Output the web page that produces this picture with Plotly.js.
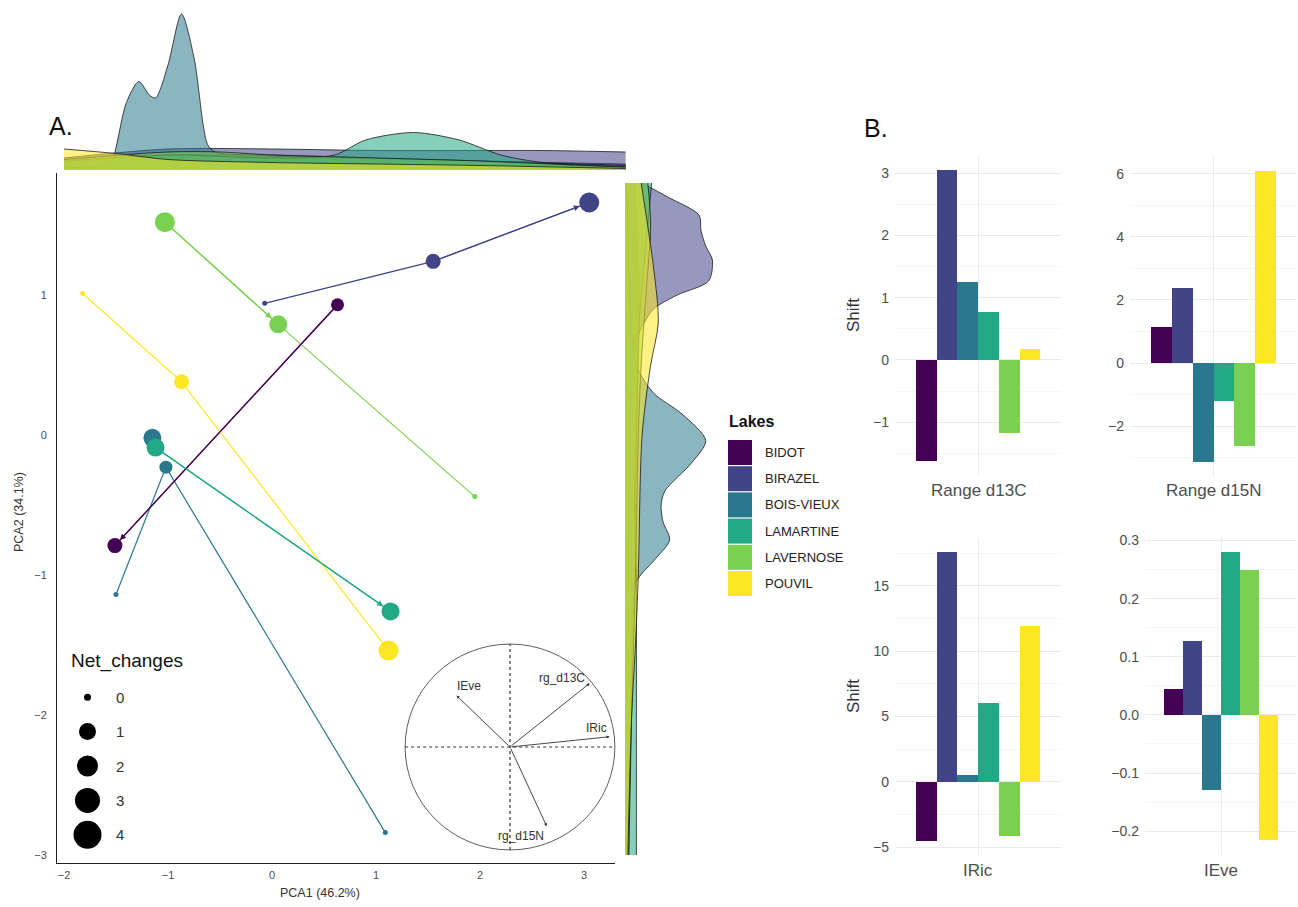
<!DOCTYPE html>
<html>
<head>
<meta charset="utf-8">
<script src="https://cdn.plot.ly/plotly-3.0.1.min.js"></script>
<style>html,body{margin:0;padding:0;background:#fff;}#chart{width:1298px;height:907px;}</style>
</head>
<body>
<div id="chart"></div>
<script>
// ---------------- DATA ----------------
const lakes = ['BIDOT','BIRAZEL','BOIS-VIEUX','LAMARTINE','LAVERNOSE','POUVIL'];
const lakeColors = ['#440154','#414487','#2A788E','#22A884','#7AD151','#FDE725'];

// PCA scores of each lake (trajectory points) and their net changes
const bidotPC1 = [0.63, -1.51];          const bidotPC2 = [0.93, -0.79];          const bidotNet = [1, 2];
const birazelPC1 = [-0.07, 1.55, 3.05];  const birazelPC2 = [0.94, 1.24, 1.66];  const birazelNet = [0, 2, 4];
const boisPC1 = [-1.50, -1.02, 1.09, -1.15]; const boisPC2 = [-1.14, -0.23, -2.84, -0.02]; const boisNet = [0, 1, 0, 3];
const lamartinePC1 = [-1.12, 1.14];      const lamartinePC2 = [-0.09, -1.26];     const lamartineNet = [3, 3];
const lavernosePC1 = [-1.03, 0.06, 1.95]; const lavernosePC2 = [1.52, 0.79, -0.44]; const lavernoseNet = [4, 3, 0];
const pouvilPC1 = [-1.82, -0.87, 1.12];  const pouvilPC2 = [1.01, 0.38, -1.54];  const pouvilNet = [0, 2, 4];
// trajectory segments [from, to, arrowhead?]
const bidotSeg = [[0,1,1]];
const birazelSeg = [[0,1,0],[1,2,1]];
const boisSeg = [[0,1,0],[1,2,0]];
const lamartineSeg = [[0,1,1]];
const lavernoseSeg = [[0,1,1],[1,2,0]];
const pouvilSeg = [[0,1,0],[1,2,0]];

// Marginal densities: PCA1 (top)
const topX_BIDOT = [-2.0,-1.0,0,1.0,2.0,3.4];               const topD_BIDOT = [0.05,0.10,0.10,0.08,0.06,0.04];
const topX_BIRAZEL = [-2.0,-1.0,0,1.0,2.0,2.6,3.4];         const topD_BIRAZEL = [0.08,0.14,0.14,0.13,0.13,0.13,0.12];
const topX_BOIS = [-2.0,-1.55,-1.5,-1.4,-1.28,-1.18,-1.12,-1.0,-0.87,-0.75,-0.62,-0.55,-0.2,0.5,1.5,2.5,3.4];
const topD_BOIS = [0.02,0.04,0.15,0.45,0.59,0.50,0.48,0.70,1.04,0.75,0.17,0.12,0.10,0.08,0.07,0.05,0.03];
const topX_LAMARTINE = [-2.0,-1.0,0,0.6,0.9,1.36,1.8,2.2,2.6,3.4]; const topD_LAMARTINE = [0.06,0.10,0.08,0.10,0.20,0.25,0.20,0.10,0.05,0.02];
const topX_LAVERNOSE = [-2.0,-1.0,-0.5,0,1.0,2.0,3.0,3.4];  const topD_LAVERNOSE = [0.07,0.12,0.12,0.10,0.08,0.06,0.03,0.02];
const topX_POUVIL = [-2.0,-1.5,-1.0,0,1.0,2.0,3.4];         const topD_POUVIL = [0.14,0.11,0.07,0.05,0.04,0.03,0.01];

// Marginal densities: PCA2 (right)
const rightY_BIDOT = [1.8,1.0,0,-1,-2,-3];                  const rightD_BIDOT = [0.10,0.15,0.12,0.10,0.05,0.02];
const rightY_BIRAZEL = [1.8,1.7,1.57,1.46,1.35,1.25,1.1,1.0,0.9,0.8,0.68,0.4,0,-1,-2,-3];
const rightD_BIRAZEL = [0.18,0.45,0.78,0.80,0.85,0.92,0.88,0.55,0.30,0.20,0.12,0.08,0.05,0.03,0.02,0.01];
const rightY_BOIS = [1.8,1.0,0.5,0.3,0.15,-0.04,-0.2,-0.4,-0.5,-0.62,-0.75,-0.9,-1.05,-1.5,-3];
const rightD_BOIS = [0.02,0.05,0.12,0.30,0.60,0.85,0.70,0.42,0.38,0.40,0.47,0.30,0.12,0.08,0.04];
const rightY_LAMARTINE = [1.8,1.2,0.8,0,-0.5,-1,-1.3,-2,-3]; const rightD_LAMARTINE = [0.28,0.20,0.15,0.12,0.10,0.12,0.12,0.12,0.12];
const rightY_LAVERNOSE = [1.8,1.5,1,0.5,0,-1,-2,-3];         const rightD_LAVERNOSE = [0.24,0.27,0.22,0.17,0.14,0.11,0.07,0.04];
const rightY_POUVIL = [1.8,1.2,0.8,0.5,0,-1,-1.5,-2,-3];     const rightD_POUVIL = [0.17,0.30,0.35,0.27,0.18,0.14,0.11,0.07,0.03];

// Correlation circle loadings
const loadVars = ['IEve','rg_d13C','IRic','rg_d15N'];
const loadPC1 = [-0.51, 0.76, 0.95, 0.35];
const loadPC2 = [0.50, 0.62, 0.10, -0.77];

// Panel B shifts
const facetNames = ['Range d13C','Range d15N','IRic','IEve'];
const shiftRangeD13C = [-1.62, 3.05, 1.25, 0.77, -1.18, 0.17];
const shiftRangeD15N = [1.15, 2.38, -3.15, -1.20, -2.62, 6.10];
const shiftIRic = [-4.5, 17.55, 0.5, 6.03, -4.12, 11.9];
const shiftIEve = [0.044, 0.127, -0.129, 0.281, 0.249, -0.216];

const netLevels = [0,1,2,3,4];

// ---------------- HELPERS ----------------
const W = 1298, H = 907;
const dx = (a,b) => [a/W, b/W];
const dy = (a,b) => [1-b/H, 1-a/H];
const plotSize = n => [5,13,15,18,20][n];
const legendSize = n => [7,17,21,25,28][n];
function rgba(hex,a){const r=parseInt(hex.slice(1,3),16),g=parseInt(hex.slice(3,5),16),b=parseInt(hex.slice(5,7),16);return `rgba(${r},${g},${b},${a})`;}
const FONT = 'Liberation Sans, Arial, sans-serif';

const traces = [];
const annotations = [];
const shapes = [];

// ---------------- MAIN PCA ----------------
const pcaData = [
  [bidotPC1,bidotPC2,bidotNet,bidotSeg],
  [birazelPC1,birazelPC2,birazelNet,birazelSeg],
  [boisPC1,boisPC2,boisNet,boisSeg],
  [lamartinePC1,lamartinePC2,lamartineNet,lamartineSeg],
  [lavernosePC1,lavernosePC2,lavernoseNet,lavernoseSeg],
  [pouvilPC1,pouvilPC2,pouvilNet,pouvilSeg]
];
pcaData.forEach((d,i)=>{
  const [px,py,net,seg]=d;
  const lx=[],ly=[];
  seg.forEach(s=>{lx.push(px[s[0]],px[s[1]],null);ly.push(py[s[0]],py[s[1]],null);});
  traces.push({type:'scatter',mode:'lines',x:lx,y:ly,xaxis:'x',yaxis:'y',line:{color:lakeColors[i],width:1.2},hoverinfo:'skip'});
});
pcaData.forEach((d,i)=>{
  const [px,py,net,seg]=d;
  traces.push({type:'scatter',mode:'markers',x:px,y:py,xaxis:'x',yaxis:'y',name:lakes[i],
    marker:{color:lakeColors[i],opacity:1,size:net.map(plotSize),line:{width:0}}});
  seg.forEach(s=>{
    if(!s[2]) return;
    annotations.push({xref:'x',yref:'y',axref:'x',ayref:'y',x:px[s[1]],y:py[s[1]],ax:px[s[0]],ay:py[s[0]],
      text:'',showarrow:true,arrowhead:2,arrowsize:1,arrowwidth:1.2,arrowcolor:lakeColors[i],standoff:plotSize(net[s[1]])/2});
  });
});

// ---------------- MARGINAL DENSITIES ----------------
const topX=[topX_BIDOT,topX_BIRAZEL,topX_BOIS,topX_LAMARTINE,topX_LAVERNOSE,topX_POUVIL];
const topD=[topD_BIDOT,topD_BIRAZEL,topD_BOIS,topD_LAMARTINE,topD_LAVERNOSE,topD_POUVIL];
const rightY=[rightY_BIDOT,rightY_BIRAZEL,rightY_BOIS,rightY_LAMARTINE,rightY_LAVERNOSE,rightY_POUVIL];
const rightD=[rightD_BIDOT,rightD_BIRAZEL,rightD_BOIS,rightD_LAMARTINE,rightD_LAVERNOSE,rightD_POUVIL];
lakes.forEach((l,i)=>{
  traces.push({type:'scatter',mode:'lines',x:topX[i],y:topD[i],xaxis:'x2',yaxis:'y2',fill:'tozeroy',
    fillcolor:rgba(lakeColors[i],0.55),line:{color:'#1a1a1a',width:0.8,shape:'spline',smoothing:0.8},hoverinfo:'skip'});
});
lakes.forEach((l,i)=>{
  traces.push({type:'scatter',mode:'lines',x:rightD[i],y:rightY[i],xaxis:'x3',yaxis:'y3',fill:'tozerox',
    fillcolor:rgba(lakeColors[i],0.55),line:{color:'#1a1a1a',width:0.8,shape:'spline',smoothing:0.8},hoverinfo:'skip'});
});

// ---------------- CORRELATION CIRCLE ----------------
shapes.push({type:'circle',xref:'x4',yref:'y4',x0:-1,y0:-1,x1:1,y1:1,line:{color:'#333',width:0.8}});
shapes.push({type:'line',xref:'x4',yref:'y4',x0:-1,y0:0,x1:1,y1:0,line:{color:'#333',width:1.2,dash:'dot'}});
shapes.push({type:'line',xref:'x4',yref:'y4',x0:0,y0:-1,x1:0,y1:1,line:{color:'#333',width:1.2,dash:'dot'}});
traces.push({type:'scatter',mode:'markers',x:[0],y:[0],xaxis:'x4',yaxis:'y4',marker:{size:1,color:'rgba(0,0,0,0)'},hoverinfo:'skip'});
const loadLabelStyle = [
  {xanchor:'left',yanchor:'bottom',xshift:-2,yshift:1},
  {xanchor:'right',yanchor:'middle',xshift:-3,yshift:5},
  {xanchor:'right',yanchor:'bottom',xshift:-1,yshift:0},
  {xanchor:'right',yanchor:'top',xshift:-1,yshift:-1}
];
loadVars.forEach((v,i)=>{
  annotations.push({xref:'x4',yref:'y4',axref:'x4',ayref:'y4',x:loadPC1[i],y:loadPC2[i],ax:0,ay:0,text:'',
    showarrow:true,arrowhead:2,arrowsize:0.7,arrowwidth:0.9,arrowcolor:'#333'});
  annotations.push(Object.assign({xref:'x4',yref:'y4',x:loadPC1[i],y:loadPC2[i],text:v,showarrow:false,
    font:{family:FONT,size:12,color:'#333'}},loadLabelStyle[i]));
});

// ---------------- NET CHANGES LEGEND ----------------
traces.push({type:'scatter',mode:'markers',x:netLevels.map(()=>0),y:netLevels,xaxis:'x9',yaxis:'y9',
  marker:{color:'#000',opacity:1,size:netLevels.map(legendSize),line:{width:0}},hoverinfo:'skip'});
netLevels.forEach(n=>{
  annotations.push({xref:'paper',yref:'y9',x:114/W,y:n,text:String(n),showarrow:false,xanchor:'left',yanchor:'middle',
    font:{family:FONT,size:15,color:'#333'}});
});
annotations.push({xref:'paper',yref:'paper',x:69/W,y:1-661/H,text:'Net_changes',showarrow:false,xanchor:'left',yanchor:'middle',
  font:{family:FONT,size:19,color:'#111'}});

// ---------------- LAKES LEGEND ----------------
annotations.push({xref:'paper',yref:'paper',x:727/W,y:1-421/H,text:'<b>Lakes</b>',showarrow:false,xanchor:'left',yanchor:'middle',
  font:{family:FONT,size:16,color:'#111'}});
lakes.forEach((l,i)=>{
  const top = 440 + 26.2*i;
  shapes.push({type:'rect',xref:'paper',yref:'paper',x0:728/W,x1:752/W,y0:1-(top+25)/H,y1:1-top/H,fillcolor:lakeColors[i],line:{width:0}});
  annotations.push({xref:'paper',yref:'paper',x:763/W,y:1-(top+12.5)/H,text:l,showarrow:false,xanchor:'left',yanchor:'middle',
    font:{family:FONT,size:13,color:'#222'}});
});

// ---------------- PANEL B BARS ----------------
const barIdx = lakes.map((l,i)=>i);
const barSets = [shiftRangeD13C, shiftRangeD15N, shiftIRic, shiftIEve];
const barAxes = [['x5','y5'],['x6','y6'],['x7','y7'],['x8','y8']];
barSets.forEach((vals,k)=>{
  traces.push({type:'bar',x:barIdx,y:vals,width:1,xaxis:barAxes[k][0],yaxis:barAxes[k][1],
    marker:{color:lakeColors,line:{width:0}},hoverinfo:'skip'});
});
const facetLabelPos = [[978,490],[1213,490],[978,870],[1221,870]];
facetNames.forEach((f,k)=>{
  annotations.push({xref:'paper',yref:'paper',x:facetLabelPos[k][0]/W,y:1-facetLabelPos[k][1]/H,text:f,showarrow:false,
    xanchor:'center',yanchor:'middle',font:{family:FONT,size:17,color:'#4d4d4d'}});
});
annotations.push({xref:'paper',yref:'paper',x:853/W,y:1-315/H,text:'Shift',showarrow:false,textangle:-90,
  xanchor:'center',yanchor:'middle',font:{family:FONT,size:17,color:'#333'}});
annotations.push({xref:'paper',yref:'paper',x:853/W,y:1-696/H,text:'Shift',showarrow:false,textangle:-90,
  xanchor:'center',yanchor:'middle',font:{family:FONT,size:17,color:'#333'}});

// Axis titles / panel tags
annotations.push({xref:'paper',yref:'paper',x:320/W,y:1-893/H,text:'PCA1 (46.2%)',showarrow:false,
  xanchor:'center',yanchor:'middle',font:{family:FONT,size:12.5,color:'#333'}});
annotations.push({xref:'paper',yref:'paper',x:19/W,y:1-512/H,text:'PCA2 (34.1%)',showarrow:false,textangle:-90,
  xanchor:'center',yanchor:'middle',font:{family:FONT,size:12.5,color:'#333'}});
annotations.push({xref:'paper',yref:'paper',x:47/W,y:1-126/H,text:'A.',showarrow:false,xanchor:'left',yanchor:'middle',
  font:{family:FONT,size:25,color:'#111'}});
annotations.push({xref:'paper',yref:'paper',x:862/W,y:1-128/H,text:'B.',showarrow:false,xanchor:'left',yanchor:'middle',
  font:{family:FONT,size:25,color:'#111'}});

// ---------------- LAYOUT ----------------
const hidden = {visible:false,showgrid:false,zeroline:false,fixedrange:true};
function barY(domain,range,dtick){
  return {domain:domain,range:range,dtick:dtick,tick0:0,showgrid:true,gridcolor:'#e9e9e9',gridwidth:1,
    minor:{dtick:dtick/2,tick0:0,showgrid:true,gridcolor:'#f6f6f6',gridwidth:1},
    zeroline:false,showline:false,ticks:'',ticklabelstandoff:5,tickfont:{family:FONT,size:14,color:'#4d4d4d'},fixedrange:true};
}
function barX(domain,anchor){
  return {domain:domain,range:[-1.5,6.5],tickvals:[2.5],showticklabels:false,showgrid:true,gridcolor:'#ececec',
    zeroline:false,showline:false,ticks:'',anchor:anchor,fixedrange:true};
}
const layout = {
  width:W,height:H,margin:{l:0,r:0,t:0,b:0},paper_bgcolor:'#fff',plot_bgcolor:'rgba(0,0,0,0)',
  showlegend:false,font:{family:FONT},barmode:'overlay',bargap:0,
  xaxis:{domain:dx(57,615),range:[-2.067,3.298],tickvals:[-2,-1,0,1,2,3],showgrid:false,zeroline:false,showline:true,
    linecolor:'#222',linewidth:1,ticks:'',ticklabelstandoff:2,tickfont:{family:FONT,size:11,color:'#4d4d4d'},anchor:'y',fixedrange:true},
  yaxis:{domain:dy(173,863),range:[-3.057,1.871],tickvals:[-3,-2,-1,0,1],showgrid:false,zeroline:false,showline:true,
    linecolor:'#222',linewidth:1,ticks:'',ticklabelstandoff:7,tickfont:{family:FONT,size:11,color:'#4d4d4d'},anchor:'x',fixedrange:true},
  xaxis2:Object.assign({},hidden,{domain:dx(62,628),range:[(62-272)/104,(628-272)/104],anchor:'y2'}),
  yaxis2:Object.assign({},hidden,{domain:dy(8,170),range:[0,1.08],anchor:'x2'}),
  xaxis3:Object.assign({},hidden,{domain:dx(625,720),range:[0,1],anchor:'y3'}),
  yaxis3:Object.assign({},hidden,{domain:dy(183,858),range:[(435-858)/140,(435-183)/140],anchor:'x3'}),
  xaxis4:Object.assign({},hidden,{domain:dx(403,617),range:[-1.02,1.02],anchor:'y4'}),
  yaxis4:Object.assign({},hidden,{domain:dy(642,852),range:[-1.02,1.02],anchor:'x4'}),
  xaxis5:barX(dx(895,1061),'y5'),
  yaxis5:Object.assign(barY(dy(156,475),[-1.85,3.28],1),{anchor:'x5'}),
  xaxis6:barX(dx(1130,1297),'y6'),
  yaxis6:Object.assign(barY(dy(156,477),[-3.61,6.56],2),{anchor:'x6'}),
  xaxis7:barX(dx(895,1061),'y7'),
  yaxis7:Object.assign(barY(dy(538,855),[-5.6,18.65],5),{anchor:'x7'}),
  xaxis8:barX(dx(1145,1297),'y8'),
  yaxis8:Object.assign(barY(dy(537,855),[-0.241,0.306],0.1),{anchor:'x8',tickformat:'.1f'}),
  xaxis9:Object.assign({},hidden,{domain:dx(70,105),range:[-1,1],anchor:'y9'}),
  yaxis9:Object.assign({},hidden,{domain:dy(680,852),range:[4.5,-0.5],anchor:'x9'}),
  annotations:annotations,shapes:shapes
};
Plotly.newPlot('chart',traces,layout,{staticPlot:true,displayModeBar:false});
</script>
</body>
</html>
